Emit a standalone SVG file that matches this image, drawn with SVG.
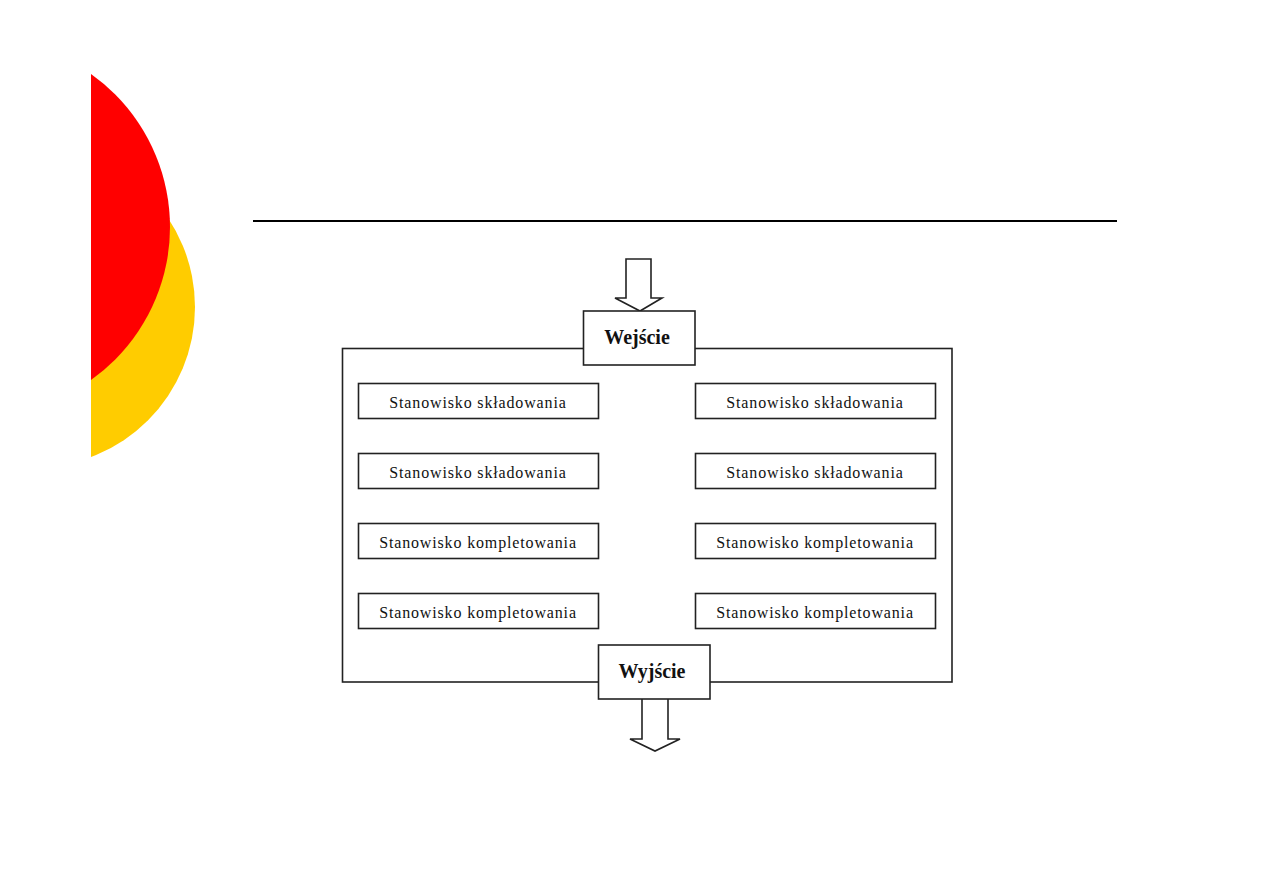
<svg xmlns="http://www.w3.org/2000/svg" width="1263" height="893" viewBox="0 0 1263 893">
<style>
.box{fill:#fff;stroke:#222;stroke-width:1.6}
.st{font-family:"Liberation Serif",serif;font-size:16px;letter-spacing:0.85px;fill:#111;text-anchor:middle}
.io{font-family:"Liberation Serif",serif;font-size:20px;font-weight:bold;fill:#111;text-anchor:middle}
.arr{fill:#fff;stroke:#222;stroke-width:1.6;stroke-linejoin:miter}
</style>
<defs>
<clipPath id="cl"><rect x="91" y="0" width="300" height="893"/></clipPath>
</defs>
<rect width="1263" height="893" fill="#fff"/>
<g id="decor" clip-path="url(#cl)">
<circle cx="34.8" cy="307" r="160.2" fill="#ffcc00"/>
<circle cx="-17.7" cy="227" r="187.7" fill="#ff0000"/>
</g>
<line x1="253" y1="221" x2="1117" y2="221" stroke="#000" stroke-width="2"/>
<g id="frame"><rect class="box" x="342.5" y="348.5" width="609.5" height="333.5"/></g>
<g id="connectors">
<path class="arr" d="M626,259 H651 V298 H662 L640,311 L615,298 H626 Z"/>
<path class="arr" d="M642,699 V739 H630 L655,751 L680,739 H668 V699"/>
</g>
<g id="wejscie"><rect class="box" x="583.5" y="311" width="111.5" height="54"/><text class="io" x="637" y="344">Wejście</text></g>
<g id="wyjscie"><rect class="box" x="598.5" y="645" width="111.5" height="54"/><text class="io" x="652" y="678">Wyjście</text></g>
<g id="l1"><rect class="box" x="358.5" y="383.5" width="240" height="35"/><text class="st" x="478" y="408">Stanowisko składowania</text></g>
<g id="l2"><rect class="box" x="358.5" y="453.5" width="240" height="35"/><text class="st" x="478" y="478">Stanowisko składowania</text></g>
<g id="l3"><rect class="box" x="358.5" y="523.5" width="240" height="35"/><text class="st" x="478" y="548">Stanowisko kompletowania</text></g>
<g id="l4"><rect class="box" x="358.5" y="593.5" width="240" height="35"/><text class="st" x="478" y="618">Stanowisko kompletowania</text></g>
<g id="r1"><rect class="box" x="695.5" y="383.5" width="240" height="35"/><text class="st" x="815" y="408">Stanowisko składowania</text></g>
<g id="r2"><rect class="box" x="695.5" y="453.5" width="240" height="35"/><text class="st" x="815" y="478">Stanowisko składowania</text></g>
<g id="r3"><rect class="box" x="695.5" y="523.5" width="240" height="35"/><text class="st" x="815" y="548">Stanowisko kompletowania</text></g>
<g id="r4"><rect class="box" x="695.5" y="593.5" width="240" height="35"/><text class="st" x="815" y="618">Stanowisko kompletowania</text></g>
</svg>
